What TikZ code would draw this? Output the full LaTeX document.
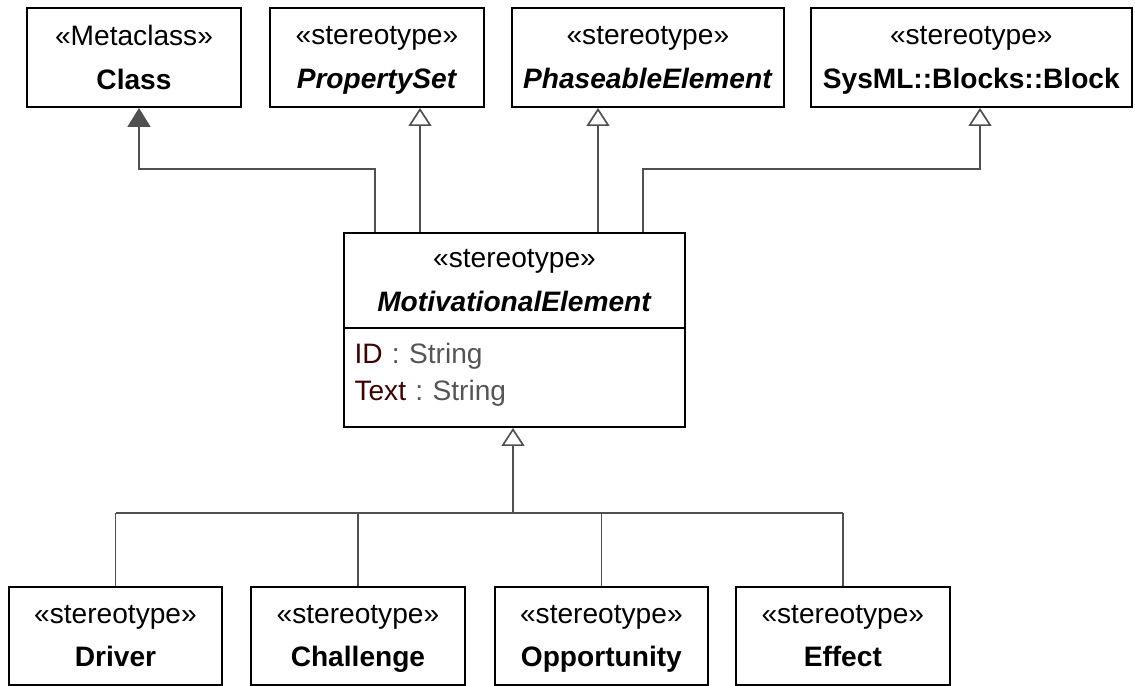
\documentclass[tikz,border=0pt]{standalone}
\usepackage{fontspec}
\setmainfont{Liberation Sans}
\usetikzlibrary{arrows.meta,positioning}
\definecolor{linea}{HTML}{505050}
\definecolor{attrnom}{HTML}{400000}
\definecolor{attrtipo}{HTML}{555555}
\tikzset{
  estereo/.style={
    rectangle, draw, line width=1.1pt, align=center,
    font=\fontsize{16}{25}\selectfont, minimum height=1.98cm,
    minimum width=4.28cm, inner sep=3pt, text depth=0pt},
  atributos/.style={
    rectangle, draw, line width=1.1pt, align=left, text width=6.4cm,
    font=\fontsize{16}{21}\selectfont, minimum height=1.98cm,
    minimum width=6.82cm, text depth=27pt},
  conector/.style={linea, line width=0.95pt},
  gen/.style={conector, -{Triangle[open, length=0.36cm, width=0.46cm]}},
  genlleno/.style={conector, -{Triangle[length=0.38cm, width=0.46cm, fill=linea]}}
}

\begin{document}
\begin{tikzpicture}
\useasboundingbox (0,0) rectangle (22.7,-13.72);

% fila superior
\node[estereo] (cls) at (2.68,-1.15) {«Metaclass»\\\textbf{Class}};
\node[estereo, right=0.54cm of cls] (ps) {«stereotype»\\\textbf{\textit{PropertySet}}};
\node[estereo, right=0.52cm of ps, minimum width=5.44cm] (ph)
  {«stereotype»\\\textbf{\textit{PhaseableElement}}};
\node[estereo, right=0.5cm of ph, minimum width=6.42cm] (blk)
  {«stereotype»\\\textbf{SysML::Blocks::Block}};

% elemento central
\node[estereo, minimum width=6.82cm, minimum height=1.9cm] (me) at (10.29,-5.61)
  {«stereotype»\\\textbf{\textit{MotivationalElement}}};
\node[atributos, below=-1.1pt of me] (meattr)
  {\textcolor{attrnom}{ID}~\textcolor{attrtipo}{:~String}\\\textcolor{attrnom}{Text}~\textcolor{attrtipo}{:~String}};

% fila inferior
\node[estereo, minimum width=4.26cm, minimum height=1.96cm,
      font=\fontsize{16}{24.5}\selectfont] (drv) at (2.31,-12.72)
  {«stereotype»\\\textbf{Driver}};
\node[estereo, minimum height=1.96cm, font=\fontsize{16}{24.5}\selectfont,
      right=0.54cm of drv] (cha) {«stereotype»\\\textbf{Challenge}};
\node[estereo, minimum width=4.26cm, minimum height=1.96cm,
      font=\fontsize{16}{24.5}\selectfont, right=0.56cm of cha] (opp)
  {«stereotype»\\\textbf{Opportunity}};
\node[estereo, minimum height=1.96cm, font=\fontsize{16}{24.5}\selectfont,
      right=0.52cm of opp] (eff) {«stereotype»\\\textbf{Effect}};

% puntos de quiebre
\coordinate (k1) at (7.5,-3.38);
\coordinate (k2) at (2.78,-3.38);
\coordinate (k3) at (12.86,-3.38);
\coordinate (k4) at (19.6,-3.38);
\coordinate (xps) at (8.4,0);
\coordinate (xph) at (11.96,0);
\coordinate (bus) at (10.26,-10.26);

\draw[genlleno] (me.north -| k1) -- (k1) -- (k2) -- (cls.south -| k2);
\draw[gen] (me.north -| xps) -- (ps.south -| xps);
\draw[gen] (me.north -| xph) -- (ph.south -| xph);
\draw[gen] (me.north -| k3) -- (k3) -- (k4) -- (blk.south -| k4);

\draw[gen] (bus) -- (meattr.south -| bus);
\draw[conector] (drv.north |- bus) -- (eff.north |- bus);
\foreach \n in {drv,cha,opp,eff}
  \draw[conector] (\n.north |- bus) -- (\n.north);

\end{tikzpicture}
\end{document}
